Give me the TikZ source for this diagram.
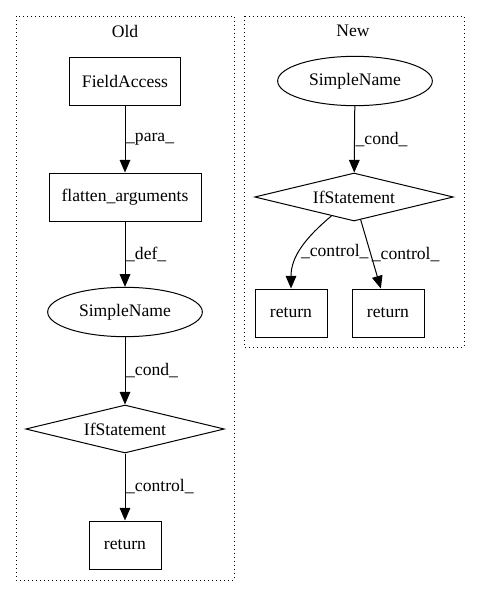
\documentclass[tikz,border=0pt]{standalone}
\usepackage{fontspec}
\setmainfont{Liberation Serif}
\usetikzlibrary{shapes.geometric,arrows.meta}

\tikzset{
    box/.style={draw, line width=0.75pt, rectangle, inner sep=0pt, minimum height=36pt},
    oval/.style={draw, line width=0.75pt, ellipse, inner sep=0pt, minimum width=116pt, minimum height=37pt},
    cond/.style={draw, line width=0.75pt, diamond, aspect=4, inner sep=0pt, minimum width=149pt, minimum height=36pt},
    flow/.style={line width=0.75pt, -{Triangle[length=9.5pt, width=8pt]}},
    lbl/.style={anchor=west, inner sep=0.5pt},
    cluster/.style={line width=0.75pt, dash pattern=on 0.75pt off 2.25pt}
}

\begin{document}
\begin{tikzpicture}[x=0.75pt, y=-0.75pt, font=\fontsize{13.2}{16}\selectfont]
            \useasboundingbox (0, 0) rectangle (480, 596);

            \draw[cluster] (16, 16) rectangle (234, 580);
            \draw[cluster] (244, 16) rectangle (464, 347);
            \node (oldtitle) at (125, 31) {Old};
            \node (newtitle) at (353, 31) {New};

            \node[box, minimum width=83.25pt] (field) at (125, 81) {FieldAccess};
            \node[box, minimum width=114pt] (flatten) at (125, 197) {flatten\_arguments};
            \node[oval] (oldname) at (125, 312) {SimpleName};
            \node[cond] (oldif) at (125, 429) {IfStatement};
            \node[box, minimum width=54pt] (oldret) at (125, 545) {return};

            \node[oval] (newname) at (355, 81) {SimpleName};
            \node[cond] (newif) at (354, 197) {IfStatement};
            \node[box, minimum width=54pt] (newretA) at (291, 313) {return};
            \node[box, minimum width=54pt] (newretB) at (388, 313) {return};

            \draw[flow] (field) -- node[lbl] {\_para\_} (flatten);
            \draw[flow] (flatten) -- node[lbl] {\_def\_} (oldname);
            \draw[flow] (oldname) -- node[lbl] {\_cond\_} (oldif);
            \draw[flow] (oldif) -- node[lbl] {\_control\_} (oldret);

            \draw[flow] (newname) -- node[lbl] {\_cond\_} (newif);
            \draw[flow] (newif) to[out=220, in=90] node[lbl, pos=0.55] {\_control\_} (newretA);
            \draw[flow] (newif) -- node[lbl] {\_control\_} (newretB);
        \end{tikzpicture}
\end{document}
